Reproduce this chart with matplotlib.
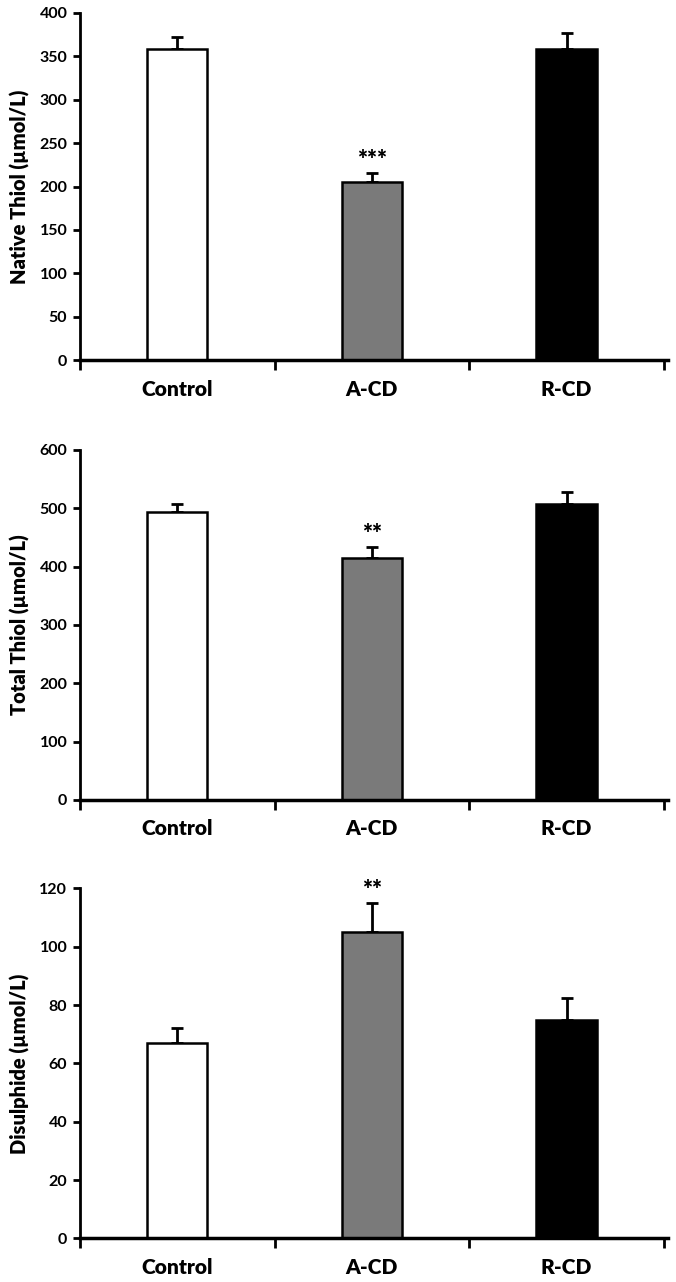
import matplotlib
matplotlib.use("Agg")
import matplotlib.pyplot as plt
from matplotlib.ticker import FixedLocator, NullFormatter

# ---- Données ----------------------------------------------
groupes = ["Control", "A-CD", "R-CD"]
couleurs = ["#ffffff", "#7a7a7a", "#000000"]

native_moy = [358, 205, 358]
native_err = [14, 11, 19]
total_moy = [493, 414, 507]
total_err = [15, 20, 21]
disul_moy = [67, 105, 75]
disul_err = [5, 10, 7.5]

etoiles_native = ["", "***", ""]
etoiles_total = ["", "**", ""]
etoiles_disul = ["", "**", ""]

plt.rcParams["font.family"] = ["Lato", "DejaVu Sans"]

fig = plt.figure(figsize=(6.76, 12.82), dpi=100)

panneaux = [
    # (rect, moyennes, erreurs, étoiles, ylabel, ymax, pas)
    ([0.118, 0.719, 0.870, 0.271], native_moy, native_err, etoiles_native,
     "Native Thiol (µmol/L)", 400, 50),
    ([0.118, 0.376, 0.870, 0.273], total_moy, total_err, etoiles_total,
     "Total Thiol (µmol/L)", 600, 100),
    ([0.118, 0.034, 0.870, 0.273], disul_moy, disul_err, etoiles_disul,
     "Disulphide (µmol/L)", 120, 20),
]

for rect, moy, err, etoiles, ylab, ymax, pas in panneaux:
    ax = fig.add_axes(rect)
    x = [i + 0.5 for i in range(len(groupes))]
    ax.bar(x, moy, width=0.31, color=couleurs, edgecolor="black",
           linewidth=1.8, zorder=2)
    ax.errorbar(x, moy, yerr=[[0] * len(err), err], fmt="none",
                ecolor="black", elinewidth=2, capsize=4, capthick=2,
                zorder=1)
    for xi, m, e, s in zip(x, moy, err, etoiles):
        if s:
            ax.text(xi, m + e + ymax * 0.005, s, ha="center", va="bottom",
                    fontsize=17, fontweight="heavy")

    ax.set_xlim(0, 3.02)
    ax.set_ylim(0, ymax)
    ax.set_yticks(range(0, ymax + 1, pas))
    ax.xaxis.set_major_locator(FixedLocator([0, 1, 2, 3]))
    ax.xaxis.set_major_formatter(NullFormatter())
    ax.xaxis.set_minor_locator(FixedLocator(x))
    ax.set_xticklabels(groupes, minor=True)
    ax.tick_params(axis="x", which="major", direction="out", length=7,
                   width=2)
    ax.tick_params(axis="x", which="minor", length=0, pad=14,
                   labelsize=15)
    for lbl in ax.get_xticklabels(minor=True):
        lbl.set_fontweight("heavy")
    ax.tick_params(axis="y", direction="out", length=5, width=2,
                   labelsize=11.5, pad=4)
    for lbl in ax.get_yticklabels():
        lbl.set_fontweight("bold")

    ax.spines["top"].set_visible(False)
    ax.spines["right"].set_visible(False)
    ax.spines["left"].set_linewidth(2)
    ax.spines["bottom"].set_linewidth(2.5)
    ax.set_ylabel(ylab, fontsize=14.5, fontweight="heavy", labelpad=7)

fig.savefig("out.png", dpi=100)
